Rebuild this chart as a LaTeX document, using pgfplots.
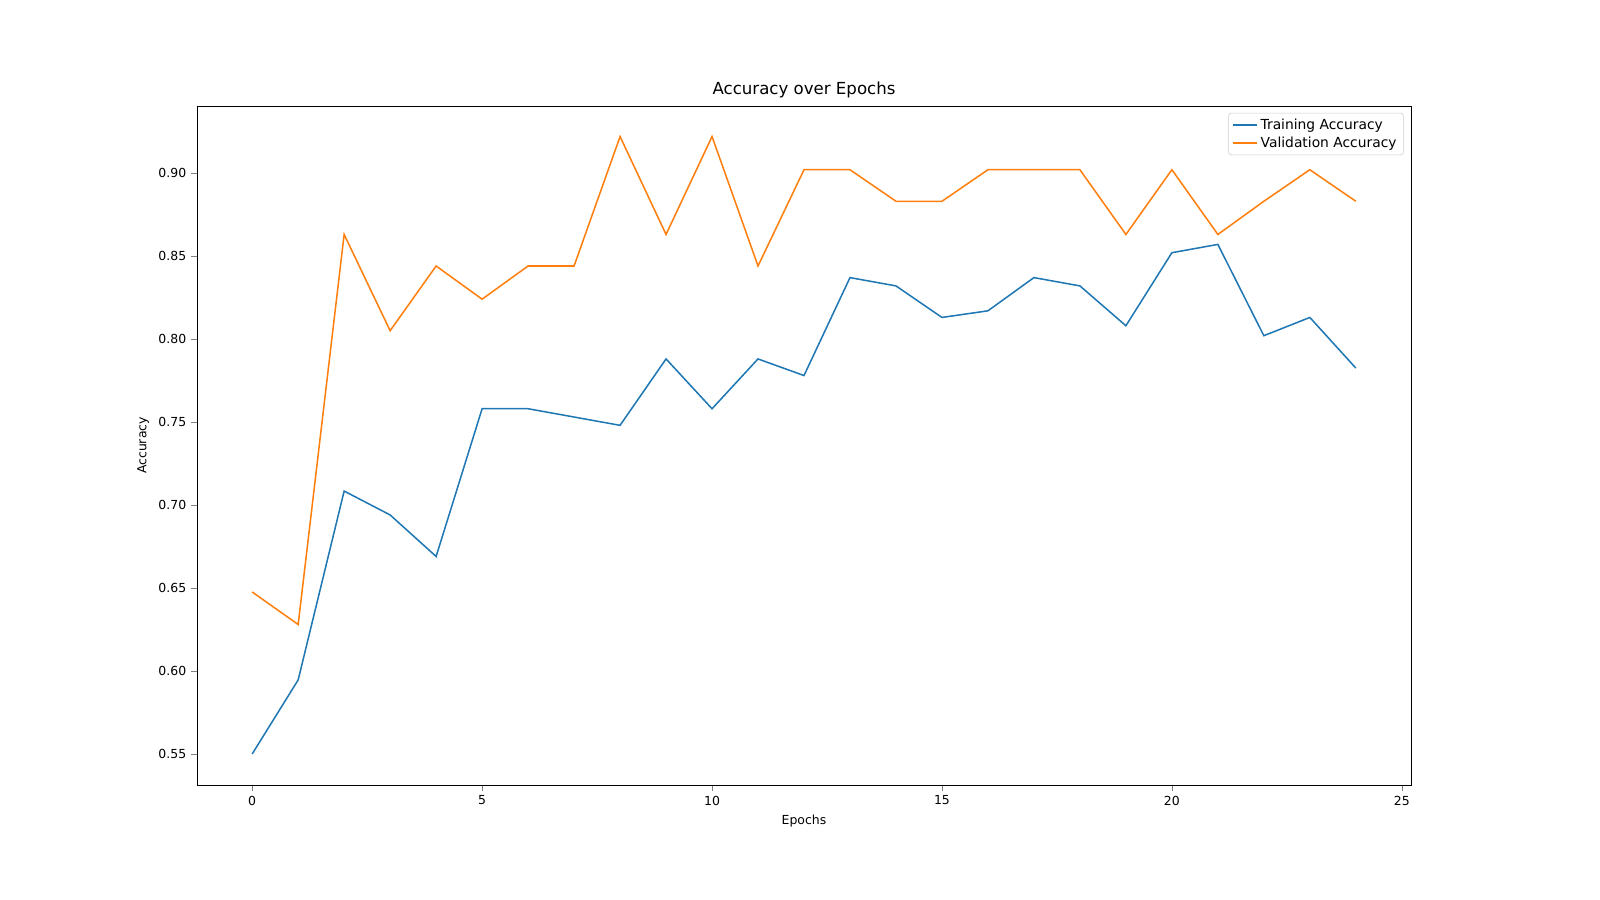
\documentclass[border=0pt]{standalone}
\usepackage{pgfplots}
\pgfplotsset{compat=1.18}
\usepackage{fontspec}
\setmainfont{DejaVu Sans}
\definecolor{cA}{HTML}{1F77B4}
\definecolor{cB}{HTML}{FF7F0E}
\begin{document}
\begin{tikzpicture}
\begin{axis}[at={(1.97in,1.15in)},anchor=south west,
 width=12.14in,height=6.79in,scale only axis,
 xmin=-1.2,xmax=25.2,ymin=0.5313,ymax=0.9404,
 xtick={0,5,10,15,20,25},
 ytick={0.55,0.60,0.65,0.70,0.75,0.80,0.85,0.90},
 yticklabel style={/pgf/number format/.cd,fixed,fixed zerofill,precision=2},
 /pgf/number format/assume math mode=true,
 tick align=outside, tick pos=left,
 xlabel={Epochs}, ylabel={Accuracy},
 title={\fontsize{12}{14}\selectfont Accuracy over Epochs},
 title style={yshift=-4pt},
 legend style={at={(0.994,0.99)},anchor=north east,draw=black!20,rounded corners=2pt,font=\normalsize},
 legend cell align=left,
 every axis plot/.append style={line width=1.1pt},
 ticklabel style={font=\small}, label style={font=\small}
]
\addplot[cA] coordinates {(0,0.55)(1,0.5946)(2,0.7084)(3,0.694)(4,0.669)(5,0.758)(6,0.758)(7,0.753)(8,0.748)(9,0.788)(10,0.758)(11,0.788)(12,0.778)(13,0.837)(14,0.832)(15,0.813)(16,0.817)(17,0.837)(18,0.832)(19,0.808)(20,0.852)(21,0.857)(22,0.802)(23,0.813)(24,0.7825)};
\addlegendentry{Training Accuracy}
\addplot[cB] coordinates {(0,0.6476)(1,0.628)(2,0.863)(3,0.805)(4,0.844)(5,0.824)(6,0.844)(7,0.844)(8,0.922)(9,0.863)(10,0.922)(11,0.844)(12,0.902)(13,0.902)(14,0.883)(15,0.883)(16,0.902)(17,0.902)(18,0.902)(19,0.863)(20,0.902)(21,0.863)(22,0.883)(23,0.902)(24,0.883)};
\addlegendentry{Validation Accuracy}
\end{axis}
\pgfresetboundingbox
\useasboundingbox (0,0) rectangle (16in,9in);
\end{tikzpicture}
\end{document}
